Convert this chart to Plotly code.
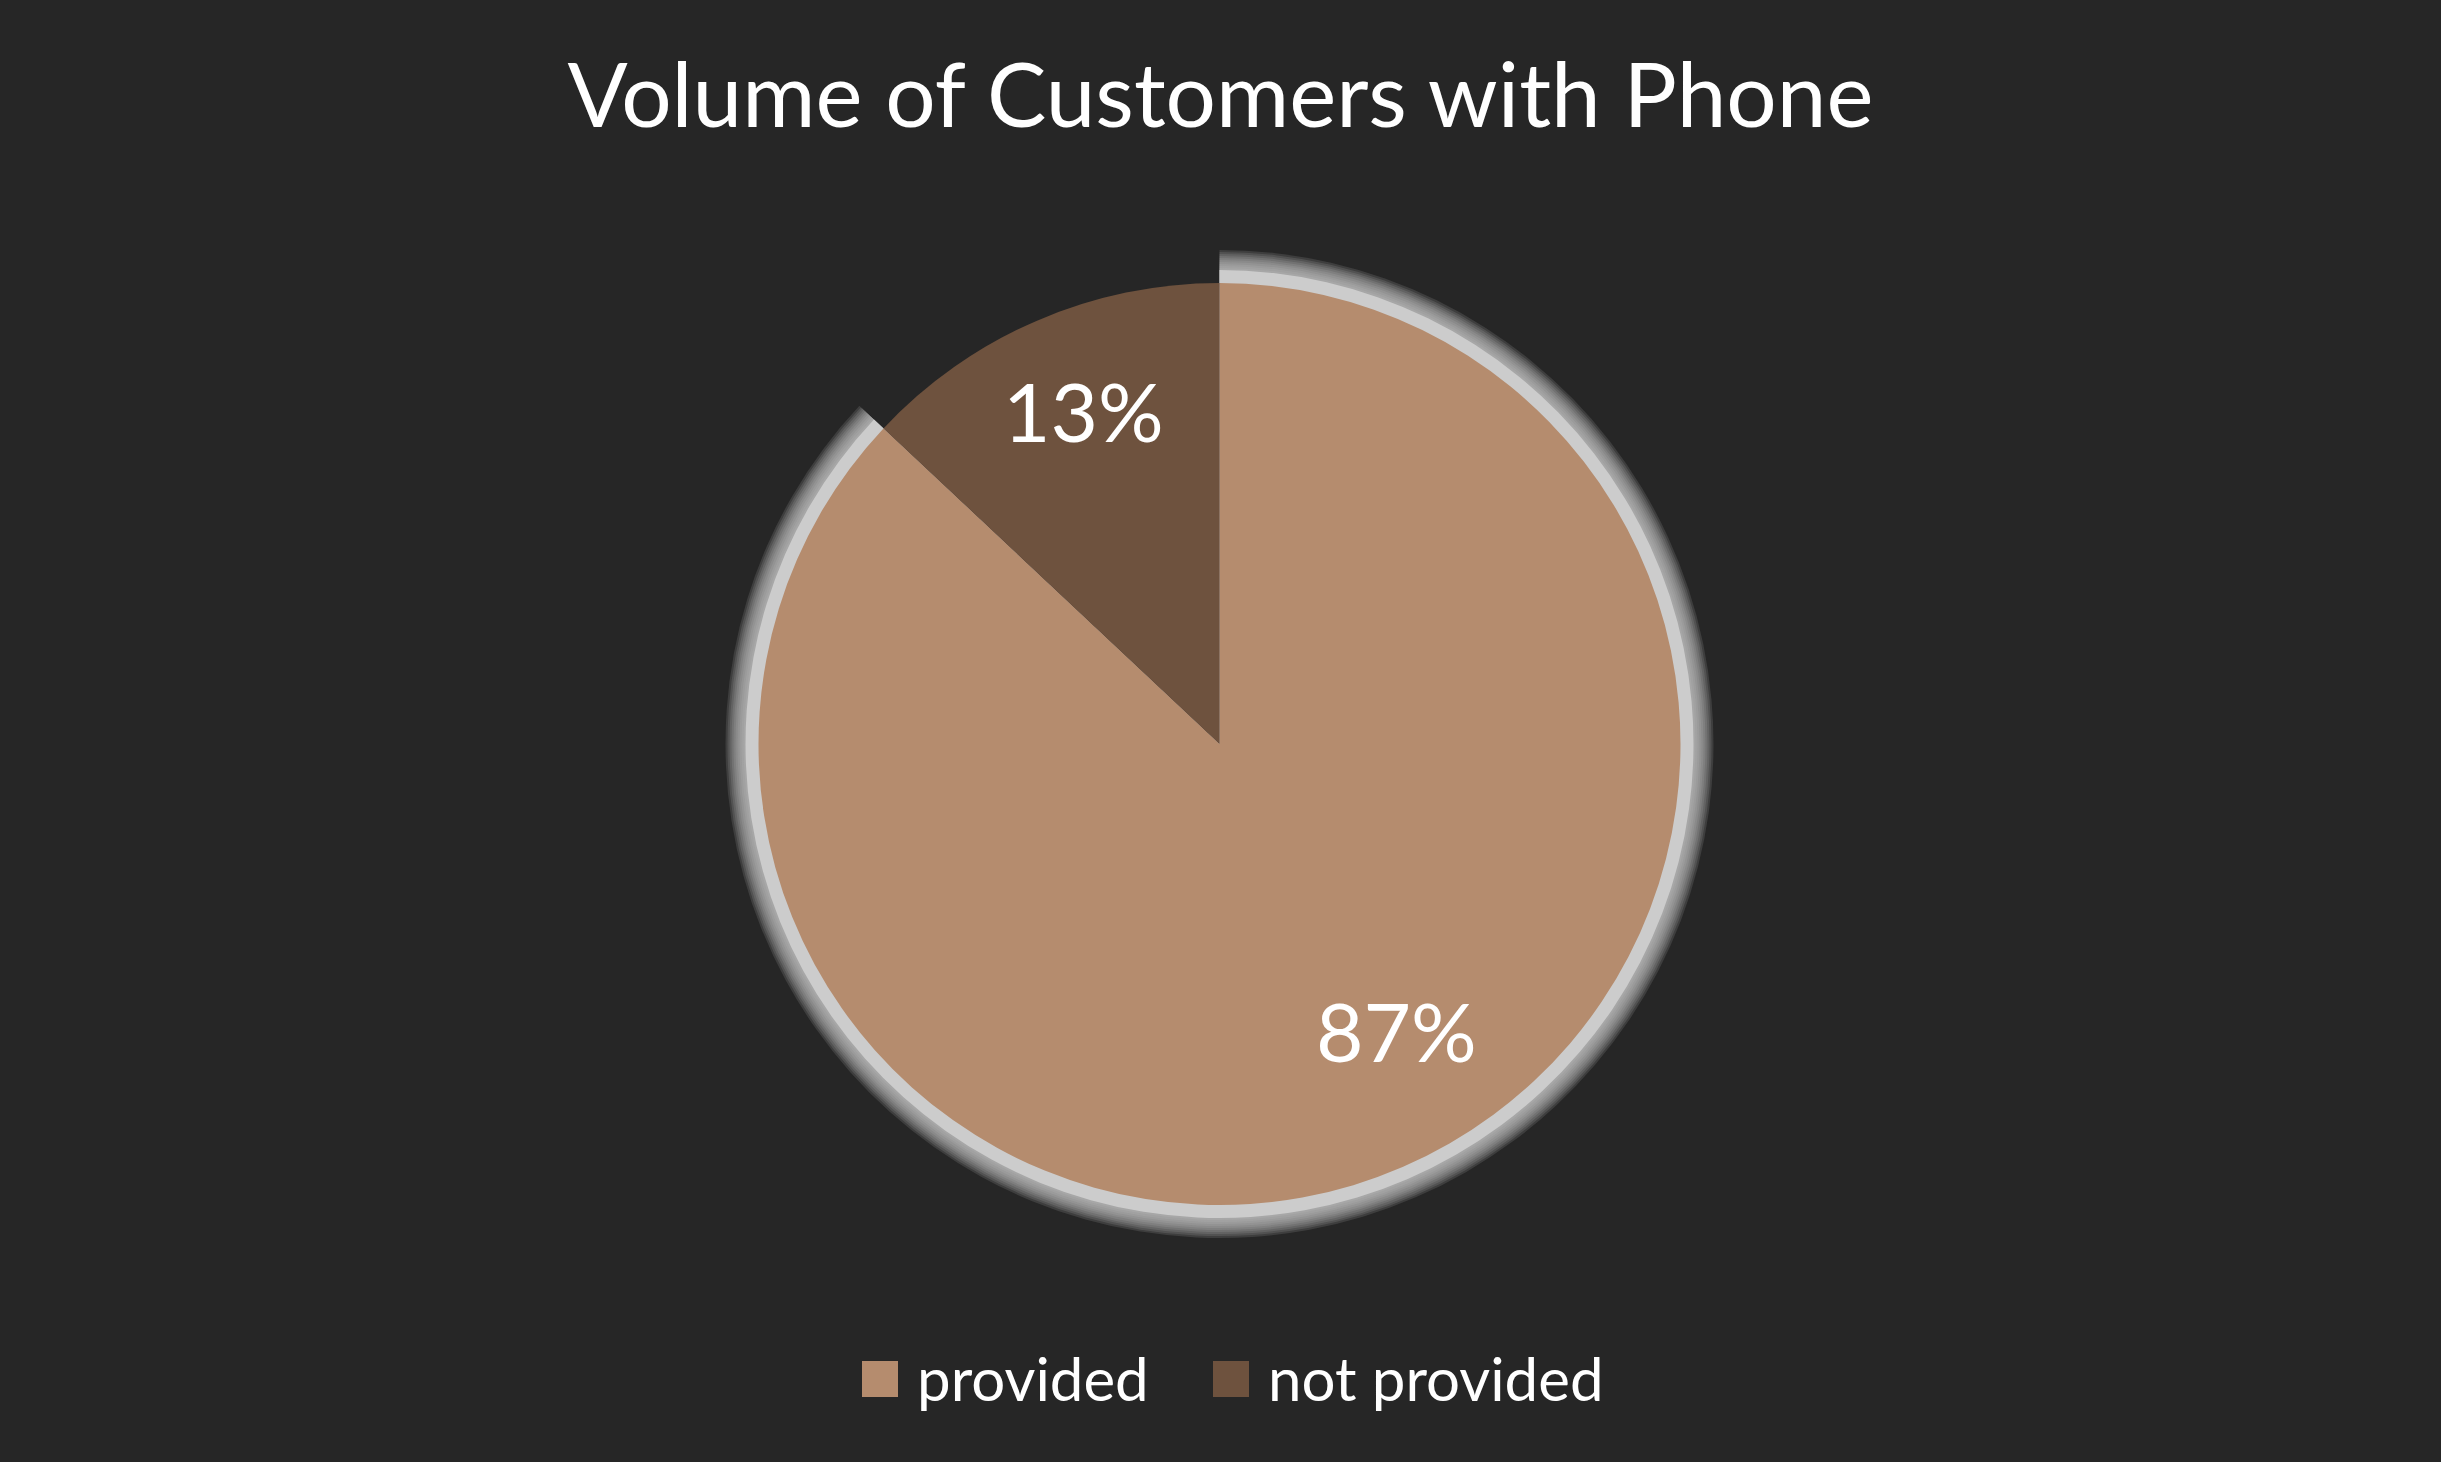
import math
import plotly.graph_objects as go

# ---- data ----
labels = ["provided", "not provided"]
values = [87, 13]
colors = ["#b58c6e", "#6e523e"]
title_text = "Volume of Customers with Phone"

W, H = 2441, 1462
CX, CY = 1219.5, 744.0      # pie centre in px (from top-left)
R = 461.0                   # pie radius in px
FONT = "Lato"

# label placement (radius fraction, angle shift in degrees) per slice
label_style = [(0.729, -8.3), (0.783, 1.2)]
# legend item left edges in px
legend_x = [862, 1213]
LEGEND_Y = 1379
SWATCH = 36

def domain(radius):
    cx = CX / W
    cy = 1 - CY / H
    hw = radius / W
    hh = radius / H
    return dict(x=[cx - hw, cx + hw], y=[cy - hh, cy + hh])

fig = go.Figure()

# soft glow behind the 'provided' slice (layers, outermost first)
glow_layers = [(off, 0.15) for off in range(33, 14, -2)] + [(13, 1.0)]
for off, a in glow_layers:
    fig.add_trace(go.Pie(
        labels=labels, values=values, sort=False, direction="clockwise", rotation=0,
        domain=domain(R + off),
        marker=dict(colors=[f"rgba(204,204,204,{a})", "rgba(0,0,0,0)"], line=dict(width=0)),
        textinfo="none", hoverinfo="skip", showlegend=False,
    ))

# main pie
fig.add_trace(go.Pie(
    labels=labels, values=values, sort=False, direction="clockwise", rotation=0,
    domain=domain(R),
    marker=dict(colors=colors, line=dict(width=0)),
    textinfo="none", showlegend=False,
))

# data labels
total = sum(values)
cum = 0
for v, (frac, shift) in zip(values, label_style):
    mid = (cum + v / 2) / total
    th = 2 * math.pi * mid + math.radians(shift)
    dx = frac * R * math.sin(th)
    dy = frac * R * math.cos(th)
    fig.add_annotation(
        x=(CX + dx) / W, y=1 - (CY - dy) / H, xref="paper", yref="paper",
        text=f"{round(100 * v / total)}%", showarrow=False,
        font=dict(family=FONT, size=82, color="#ffffff"),
        xanchor="center", yanchor="middle",
    )
    cum += v

# legend (swatches + text)
for lab, col, lx in zip(labels, colors, legend_x):
    fig.add_shape(
        type="rect", xref="paper", yref="paper",
        x0=lx / W, x1=(lx + SWATCH) / W,
        y0=1 - (LEGEND_Y + SWATCH / 2) / H, y1=1 - (LEGEND_Y - SWATCH / 2) / H,
        fillcolor=col, line=dict(width=0),
    )
    fig.add_annotation(
        x=(lx + SWATCH + 17) / W, y=1 - (LEGEND_Y - 1) / H, xref="paper", yref="paper",
        text=lab, showarrow=False, xanchor="left", yanchor="middle",
        font=dict(family=FONT, size=60, color="#ffffff"),
    )

fig.update_layout(
    width=W, height=H,
    paper_bgcolor="#262626", plot_bgcolor="#262626",
    margin=dict(l=0, r=0, t=0, b=0),
    title=dict(text=title_text, x=0.5, xanchor="center", y=1 - 96 / H, yanchor="middle",
               font=dict(family=FONT, size=89, color="#ffffff")),
    showlegend=False,
)

fig.write_html("out.html")
